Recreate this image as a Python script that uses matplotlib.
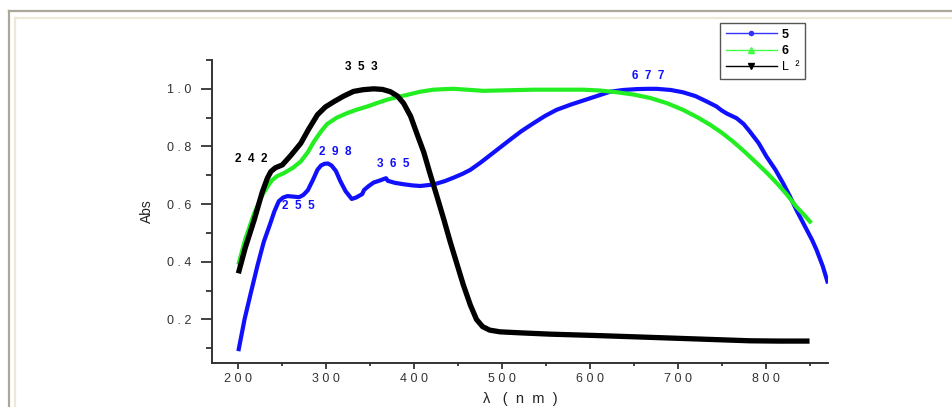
import matplotlib
matplotlib.use("Agg")
import matplotlib.pyplot as plt
from matplotlib.lines import Line2D

plt.rcParams["font.family"] = ["Liberation Sans", "DejaVu Sans"]

# --- espectros UV-Vis ---
nm_5 = [200, 207, 214, 222, 229, 236, 241, 246, 251, 256, 263, 269, 274, 279,
        285, 290, 294, 298, 302, 306, 311, 316, 322, 329, 334, 341, 343, 348,
        354, 361, 368, 370, 378, 388, 398, 407, 422, 435, 445, 455, 464, 476,
        487, 498, 509, 522, 536, 549, 562, 578, 593, 608, 623, 638, 653, 666,
        676, 692, 706, 720, 733, 744, 750, 756, 767, 775, 782, 792, 801, 811,
        820, 828, 835, 841, 847, 853, 858, 865, 871]
abs_5 = [0.09, 0.20, 0.29, 0.39, 0.47, 0.53, 0.575, 0.61, 0.623, 0.628, 0.626,
         0.624, 0.632, 0.648, 0.685, 0.719, 0.734, 0.74, 0.741, 0.734, 0.715,
         0.68, 0.645, 0.618, 0.623, 0.635, 0.649, 0.662, 0.675, 0.682, 0.69,
         0.681, 0.674, 0.669, 0.665, 0.663, 0.668, 0.68, 0.692, 0.705, 0.719,
         0.745, 0.771, 0.797, 0.823, 0.853, 0.881, 0.906, 0.927, 0.945, 0.96,
         0.975, 0.99, 0.996, 0.999, 1.0, 1.0, 0.996, 0.988, 0.975, 0.956,
         0.939, 0.925, 0.914, 0.898, 0.878, 0.852, 0.812, 0.765, 0.72, 0.672,
         0.625, 0.58, 0.545, 0.51, 0.475, 0.441, 0.385, 0.325]

nm_6 = [200, 208, 218, 227, 233, 238, 244, 252, 262, 271, 279, 286, 294, 301,
        312, 324, 335, 347, 358, 369, 380, 392, 407, 422, 435, 445, 460, 479,
        507, 536, 565, 593, 612, 631, 650, 669, 688, 706, 722, 737, 750, 763,
        776, 790, 802, 813, 824, 835, 844, 852]
abs_6 = [0.39, 0.48, 0.568, 0.63, 0.66, 0.682, 0.697, 0.708, 0.726, 0.748,
         0.78, 0.817, 0.852, 0.878, 0.9, 0.916, 0.928, 0.939, 0.951, 0.962,
         0.971, 0.979, 0.99, 0.997, 0.999, 1.0, 0.997, 0.993, 0.995, 0.997,
         0.997, 0.997, 0.994, 0.988, 0.98, 0.968, 0.95, 0.927, 0.902, 0.875,
         0.848, 0.817, 0.782, 0.742, 0.707, 0.672, 0.634, 0.591, 0.562, 0.534]

nm_L = [200, 208, 218, 227, 233, 237, 242, 250, 260, 271, 280, 290, 299, 309,
        320, 331, 342, 354, 364, 373, 381, 388, 396, 403, 411, 418, 426, 434,
        441, 449, 456, 464, 471, 478, 486, 498, 525, 555, 610, 668, 725, 782,
        815, 850]
abs_L = [0.36, 0.45, 0.545, 0.64, 0.69, 0.713, 0.726, 0.736, 0.77, 0.811,
         0.86, 0.91, 0.937, 0.956, 0.975, 0.991, 0.997, 1.0, 0.998, 0.99,
         0.975, 0.95, 0.905, 0.846, 0.78, 0.707, 0.627, 0.545, 0.47, 0.39,
         0.32, 0.25, 0.20, 0.175, 0.163, 0.157, 0.153, 0.149, 0.144, 0.138,
         0.132, 0.126, 0.125, 0.125]

x_ticks = [200, 300, 400, 500, 600, 700, 800]
x_minor = [250, 350, 450, 550, 650, 750, 850]
x_tick_labels = ["2 0 0", "3 0 0", "4 0 0", "5 0 0", "6 0 0", "7 0 0", "8 0 0"]
y_ticks = [0.2, 0.4, 0.6, 0.8, 1.0]
y_minor = [0.1, 0.3, 0.5, 0.7, 0.9, 1.1]
y_tick_labels = ["0 . 2", "0 . 4", "0 . 6", "0 . 8", "1 . 0"]

picos_negro = ["3  5  3", "2  4  2"]
picos_azul = ["2  9  8", "2  5  5", "3  6  5", "6  7  7"]

AZUL = "#1010ff"
VERDE = "#22ee22"
W, H = 953, 407

fig = plt.figure(figsize=(W / 100, H / 100), dpi=100)
ax = fig.add_axes([212 / W, 1 - 362.7 / H, (828 - 212) / W, (362.7 - 60) / H])

estilo = dict(solid_capstyle="butt", solid_joinstyle="round")
ax.plot(nm_5, abs_5, color=AZUL, lw=3.0, **estilo)
ax.plot(nm_6, abs_6, color=VERDE, lw=3.0, **estilo)
ax.plot(nm_L, abs_L, color="black", lw=3.8, **estilo)

ax.set_xlim(170, 871)
ax.set_ylim(0.05, 1.1)

for s in ["top", "right"]:
    ax.spines[s].set_visible(False)
for s in ["left", "bottom"]:
    ax.spines[s].set_linewidth(1.4)
    ax.spines[s].set_color("#333333")

ax.set_xticks(x_ticks, labels=x_tick_labels)
ax.set_xticks(x_minor, minor=True)
ax.set_yticks(y_ticks, labels=y_tick_labels)
ax.set_yticks(y_minor, minor=True)
ax.tick_params(axis="x", which="major", length=4.5, width=1.3, pad=3,
               labelsize=9, colors="#333333")
ax.tick_params(axis="x", which="minor", length=2.2, width=1.3, colors="#333333")
ax.tick_params(axis="y", which="major", length=8, width=1.3, pad=7,
               labelsize=9, colors="#333333")
ax.tick_params(axis="y", which="minor", length=4, width=1.3, colors="#333333")

ax.set_ylabel("Abs", fontsize=10, color="#222222", labelpad=9)
ax.set_xlabel("λ   (  n  m  )", fontsize=10.5, color="#222222", labelpad=5)

# etiquetas de picos
kw = dict(ha="center", va="center", fontsize=8.5, fontweight="bold")
ax.text(340, 1.075, picos_negro[0], color="black", **kw)
ax.text(215, 0.755, picos_negro[1], color="black", **kw)
ax.text(310.6, 0.78, picos_azul[0], color=AZUL, **kw)
ax.text(268.5, 0.594, picos_azul[1], color=AZUL, **kw)
ax.text(376.5, 0.738, picos_azul[2], color=AZUL, **kw)
ax.text(666, 1.046, picos_azul[3], color=AZUL, **kw)

# leyenda
handles = [Line2D([0], [0], color="#3333ff", lw=1, marker="o", ms=3),
           Line2D([0], [0], color="#44ff44", lw=1, marker="^", ms=4),
           Line2D([0], [0], color="black", lw=1, marker="v", ms=4)]
leg = ax.legend(handles, ["5", "6", "L  ²"], loc="upper left",
                bbox_to_anchor=(720 / W, 1 - 23 / H), bbox_transform=fig.transFigure,
                fontsize=9, handlelength=4.1, handletextpad=0.4, borderpad=0.45,
                labelspacing=0.35, borderaxespad=0, fancybox=False,
                framealpha=1, edgecolor="#555555")
leg.get_frame().set_linewidth(1.0)
for t in leg.get_texts()[:2]:
    t.set_fontweight("bold")

# marco de la ventana
gris, beige = "#aca899", "#ece9d8"
fig.add_artist(Line2D([9 / W, 9 / W], [0, 1 - 11 / H], transform=fig.transFigure,
                      color=gris, lw=1.6))
fig.add_artist(Line2D([9 / W, 1], [1 - 11 / H, 1 - 11 / H], transform=fig.transFigure,
                      color=gris, lw=1.6))
fig.add_artist(Line2D([15 / W, 15 / W], [0, 1 - 17.5 / H], transform=fig.transFigure,
                      color=beige, lw=1.6))
fig.add_artist(Line2D([15 / W, 1], [1 - 17.5 / H, 1 - 17.5 / H], transform=fig.transFigure,
                      color=beige, lw=1.6))

fig.savefig("out.png", dpi=100)
